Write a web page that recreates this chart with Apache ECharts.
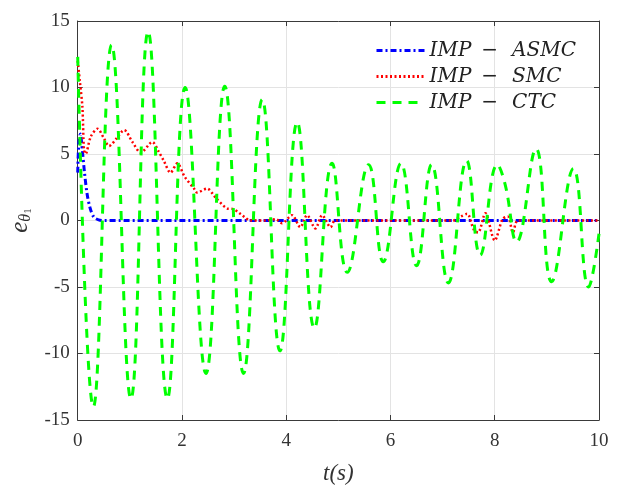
<!DOCTYPE html>
<html>
<head>
<meta charset="utf-8">
<script src="https://cdn.jsdelivr.net/npm/echarts@6/dist/echarts.min.js"></script>
<style>
html,body{margin:0;padding:0;background:#fff;}
#chart{width:624px;height:490px;}
</style>
</head>
<body>
<div id="chart"></div>
<script>
// Data
var seriesNames = ['IMP\u2002\u2212\u2002\u2009ASMC', 'IMP\u2002\u2212\u2002\u2009SMC', 'IMP\u2002\u2212\u2002\u2009CTC'];
var xTicks = [0, 2, 4, 6, 8, 10];
var yTicks = [-15, -10, -5, 0, 5, 10, 15];

var asmc = [
  [0, 3.6], [0.02, 5.8], [0.05, 6.5], [0.09, 5.2], [0.13, 3.6], [0.18, 2.0],
  [0.24, 0.9], [0.31, 0.25], [0.4, 0.05], [0.5, 0], [10, 0]
];

var smc = [
  [0, 12.0], [0.04, 10.5], [0.09, 8.5], [0.12, 5.3], [0.15, 5.0], [0.25, 6.3],
  [0.38, 6.9], [0.5, 6.2], [0.6, 5.6], [0.75, 6.2], [0.89, 6.8], [1.05, 5.9],
  [1.21, 5.1], [1.43, 5.9], [1.55, 5.2], [1.65, 4.5], [1.78, 3.6], [1.91, 4.3],
  [2.05, 3.3], [2.23, 2.4], [2.29, 2.1], [2.48, 2.4], [2.65, 1.7], [2.87, 0.9],
  [2.99, 0.85], [3.12, 0.5], [3.22, 0.2], [3.3, 0], [3.6, 0], [3.8, 0.1],
  [3.92, -0.2], [4.11, 0.4], [4.27, -0.5], [4.4, 0.4], [4.56, -0.6], [4.69, 0.4],
  [4.85, -0.5], [4.94, 0], [7.2, 0], [7.35, 0.3], [7.47, 0.5], [7.6, -0.7],
  [7.68, -0.9], [7.82, 0.55], [8.0, -1.5], [8.15, 0.1], [8.25, 0.3], [8.35, -0.9],
  [8.45, 0], [10, 0]
];

var ctc = [
  [0, 12.3], [0.30, -14.0], [0.65, 13.2], [1.02, -13.4], [1.35, 14.2], [1.72, -13.4],
  [2.06, 10.0], [2.46, -11.5], [2.82, 10.1], [3.18, -11.5], [3.54, 9.1], [3.88, -9.8],
  [4.21, 7.4], [4.54, -8.1], [4.88, 4.3], [5.17, -3.9], [5.58, 4.2], [5.86, -3.1],
  [6.2, 4.3], [6.5, -3.4], [6.79, 4.2], [7.11, -4.7], [7.46, 4.5], [7.72, -2.6],
  [8.05, 4.2], [8.2, 2.7], [8.42, -1.6], [8.79, 5.4], [9.09, -4.6], [9.51, 3.9],
  [9.8, -5.0], [10, -1.0]
];

var serif = 'Liberation Serif';
var axisColor = '#3a3a3a';
var gridColor = '#e3e3e3';

var chart = echarts.init(document.getElementById('chart'), null, {renderer: 'canvas'});

function baseX(show) {
  return {
    type: 'value', min: xTicks[0], max: xTicks[xTicks.length - 1], interval: 2,
    axisLine: {show: true, onZero: false, lineStyle: {color: axisColor, width: 1}},
    axisTick: {show: true, inside: true, length: 5, lineStyle: {color: axisColor}},
    splitLine: {show: show, lineStyle: {color: gridColor, width: 1}},
    axisLabel: {show: show, fontFamily: serif, fontSize: 19, color: '#333', margin: 12}
  };
}
function baseY(show) {
  return {
    type: 'value', min: yTicks[0], max: yTicks[yTicks.length - 1], interval: 5,
    axisLine: {show: true, onZero: false, lineStyle: {color: axisColor, width: 1}},
    axisTick: {show: true, inside: true, length: 5, lineStyle: {color: axisColor}},
    splitLine: {show: show, lineStyle: {color: gridColor, width: 1}},
    axisLabel: {show: show, fontFamily: serif, fontSize: 19, color: '#333', margin: 8}
  };
}

var x0 = baseX(true);
x0.position = 'bottom';
x0.name = 't(s)';
x0.nameLocation = 'middle';
x0.nameGap = 42;
x0.nameTextStyle = {fontFamily: serif, fontStyle: 'italic', fontSize: 23, color: '#333'};
var x1 = baseX(false);
x1.position = 'top';

var y0 = baseY(true);
y0.position = 'left';
y0.name = '{e|e}{t|θ}{n|1}';
y0.nameLocation = 'middle';
y0.nameGap = 44;
y0.nameTextStyle = {
  rich: {
    e: {fontFamily: serif, fontStyle: 'italic', fontSize: 25, color: '#333'},
    t: {fontFamily: serif, fontStyle: 'italic', fontSize: 16, color: '#333', verticalAlign: 'bottom', padding: [10, 0, 0, 0]},
    n: {fontFamily: serif, fontSize: 11, color: '#333', verticalAlign: 'bottom', padding: [14, 0, 0, 0]}
  }
};
var y1 = baseY(false);
y1.position = 'right';

var option = {
  animation: false,
  backgroundColor: '#fff',
  grid: {left: 77, right: 25, top: 21, bottom: 70, containLabel: false},
  xAxis: [x0, x1],
  yAxis: [y0, y1],
  legend: {
    orient: 'vertical',
    left: 375,
    top: 40,
    padding: 0,
    itemWidth: 48,
    itemHeight: 12,
    itemGap: 5,
    itemStyle: {opacity: 0},
    lineStyle: {width: 3},
    textStyle: {fontFamily: 'DejaVu Serif', fontStyle: 'italic', fontSize: 20, color: '#222', lineHeight: 21, padding: [0, 0, 0, 0]},
    data: seriesNames
  },
  series: [
    {
      name: seriesNames[0], type: 'line', data: asmc, symbol: 'none', smooth: 0.3,
      lineStyle: {color: '#0000ff', width: 3, type: [6, 3, 2, 3]},
      itemStyle: {color: '#0000ff'}
    },
    {
      name: seriesNames[1], type: 'line', data: smc, symbol: 'none', smooth: 0.3,
      lineStyle: {color: '#ff0000', width: 2.5, type: [2, 2.5]},
      itemStyle: {color: '#ff0000'}
    },
    {
      name: seriesNames[2], type: 'line', data: ctc, symbol: 'none', smooth: 0.45,
      lineStyle: {color: '#00ff00', width: 3, type: [9, 7]},
      itemStyle: {color: '#00ff00'}
    }
  ]
};
chart.setOption(option);
</script>
</body>
</html>
